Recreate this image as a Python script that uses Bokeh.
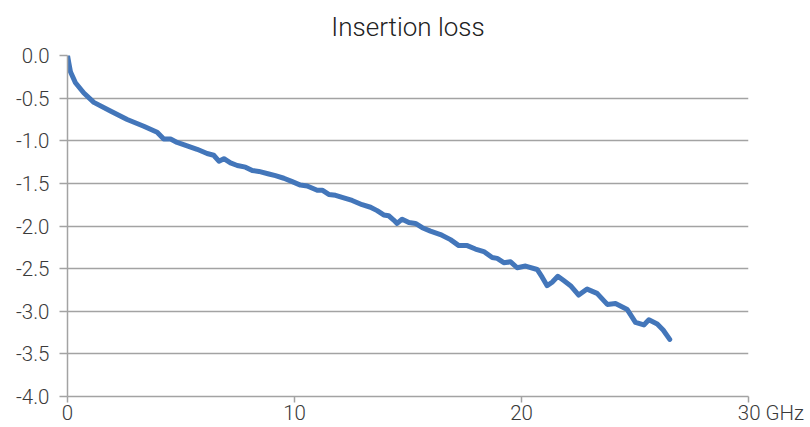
from bokeh.plotting import figure
from bokeh.models import FixedTicker, Range1d, PrintfTickFormatter
from bokeh.embed import file_html
from bokeh.resources import INLINE

title_text = "Insertion loss"
x_ticks = [0, 10, 20, 30]
y_ticks = [-4.0, -3.5, -3.0, -2.5, -2.0, -1.5, -1.0, -0.5, 0.0]
x_unit = "GHz"

freq_ghz = [0.0, 0.06, 0.13, 0.25, 0.35, 0.72, 1.16, 1.89, 2.63, 3.36, 3.95, 4.24, 4.54, 4.83,
            5.27, 5.71, 6.15, 6.44, 6.67, 6.89, 7.18, 7.48, 7.84, 8.14, 8.43, 8.87,
            9.16, 9.53, 9.90, 10.26, 10.56, 11.0, 11.22, 11.51, 11.81, 12.17, 12.54,
            12.98, 13.35, 13.64, 13.93, 14.15, 14.37, 14.52, 14.74, 15.04, 15.33,
            15.63, 15.99, 16.43, 16.87, 17.24, 17.61, 17.97, 18.34, 18.71, 18.93,
            19.22, 19.52, 19.81, 20.18, 20.69, 20.91, 21.13, 21.35, 21.60, 21.86,
            22.16, 22.52, 22.89, 23.33, 23.78, 24.14, 24.66, 25.02, 25.39, 25.61,
            25.98, 26.24, 26.53]
loss_db = [0.0, -0.09, -0.19, -0.26, -0.32, -0.44, -0.55, -0.65, -0.75, -0.83, -0.90, -0.98, -0.98,
           -1.02, -1.06, -1.10, -1.15, -1.17, -1.24, -1.21, -1.26, -1.29, -1.31, -1.35,
           -1.36, -1.39, -1.41, -1.44, -1.48, -1.52, -1.53, -1.58, -1.58, -1.63, -1.64,
           -1.67, -1.70, -1.75, -1.78, -1.82, -1.87, -1.88, -1.93, -1.97, -1.92, -1.96,
           -1.97, -2.02, -2.06, -2.10, -2.16, -2.23, -2.23, -2.27, -2.30, -2.37, -2.38,
           -2.43, -2.42, -2.49, -2.47, -2.51, -2.60, -2.70, -2.66, -2.59, -2.64, -2.70,
           -2.81, -2.74, -2.79, -2.92, -2.91, -2.98, -3.13, -3.16, -3.10, -3.15, -3.22,
           -3.33]

FONT = "Roboto Light"
GRID = "#a3a3a3"
TXT = "#3a3a3a"

p = figure(width=810, height=427, output_backend="svg", toolbar_location=None,
           x_range=Range1d(0, 30), y_range=Range1d(-4, 0),
           min_border_left=67, min_border_right=62, min_border_top=54,
           min_border_bottom=28, title=title_text)
p.outline_line_color = None
p.background_fill_color = "white"
p.border_fill_color = "white"

p.title.align = "center"
p.title.vertical_align = "top"
p.title.text_font = FONT
p.title.text_font_size = "26px"
p.title.text_font_style = "normal"
p.title.text_color = "#222222"
p.title.standoff = 23

p.xgrid.visible = False
p.ygrid.ticker = FixedTicker(ticks=y_ticks)
p.ygrid.grid_line_color = GRID
p.ygrid.grid_line_width = 1.5

# last tick label carries the unit; leading no-break spaces keep "30" centred on its tick
pad = "\u00a0" * 9
x_labels = {t: str(t) for t in x_ticks}
x_labels[x_ticks[-1]] = pad + str(x_ticks[-1]) + " " + x_unit

xa = p.xaxis[0]
xa.ticker = FixedTicker(ticks=x_ticks)
xa.major_label_overrides = x_labels
xa.axis_line_color = GRID
xa.axis_line_width = 1.5
xa.major_tick_line_color = GRID
xa.major_tick_line_width = 1.5
xa.major_tick_out = 6
xa.major_tick_in = 0
xa.minor_tick_line_color = None
xa.major_label_standoff = -2
xa.major_label_text_font = FONT
xa.major_label_text_font_size = "20.5px"
xa.major_label_text_color = TXT

ya = p.yaxis[0]
ya.ticker = FixedTicker(ticks=y_ticks)
ya.formatter = PrintfTickFormatter(format="%.1f")
ya.axis_line_color = GRID
ya.axis_line_width = 1.5
ya.major_tick_line_color = GRID
ya.major_tick_line_width = 1.5
ya.major_tick_out = 8
ya.major_tick_in = 0
ya.minor_tick_line_color = None
ya.major_label_standoff = 10
ya.major_label_text_font = FONT
ya.major_label_text_font_size = "20.5px"
ya.major_label_text_color = TXT

p.line(freq_ghz, loss_db, line_width=5, line_color="#4376BA",
       line_join="round", line_cap="round")

open("out.html", "w").write(file_html(p, INLINE))
